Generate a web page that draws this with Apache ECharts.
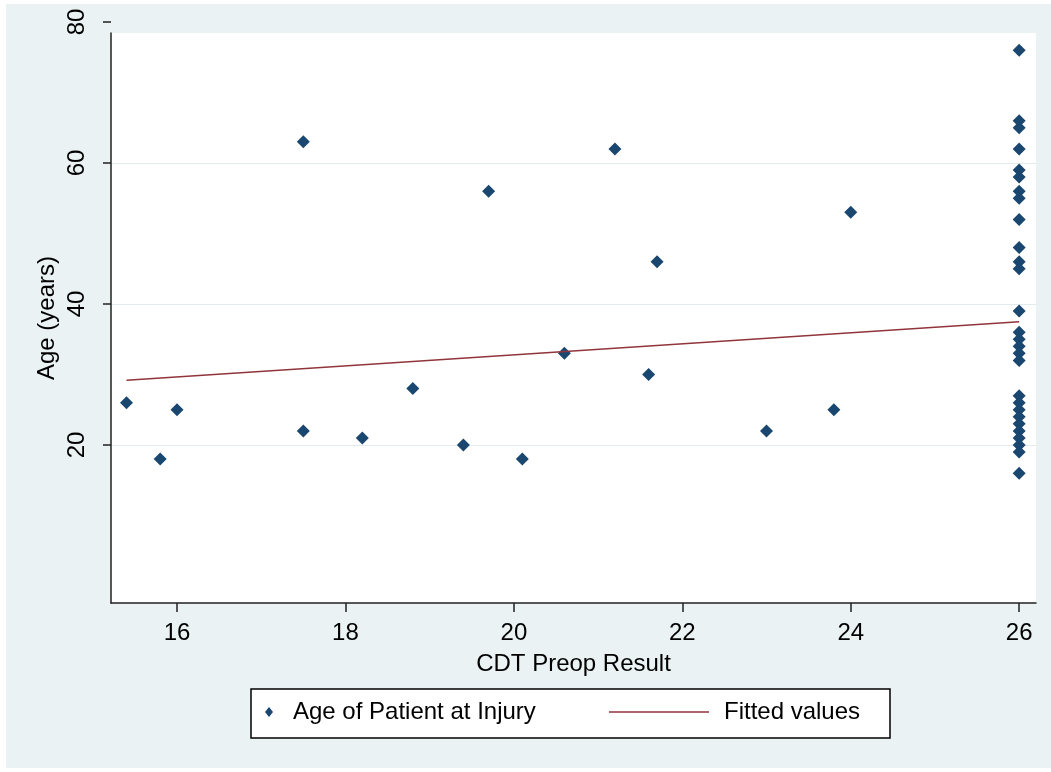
<!DOCTYPE html>
<html>
<head>
<meta charset="utf-8">
<script src="https://cdn.jsdelivr.net/npm/echarts@6/dist/echarts.min.js"></script>
<style>
  html, body { margin: 0; padding: 0; background: #fff; }
  #chart { width: 1051px; height: 772px; }
</style>
</head>
<body>
<div id="chart"></div>
<script>
// ---- data ----
const cdtScores = [15.4, 15.8, 16.0, 17.5, 17.5, 18.2, 18.8, 19.4, 19.7, 20.1, 20.6, 21.2, 21.6, 21.7, 23.0, 23.8, 24.0,
  26, 26, 26, 26, 26, 26, 26, 26, 26, 26, 26, 26, 26, 26, 26, 26, 26, 26,
  26, 26, 26, 26, 26, 26, 26, 26, 26, 26];
const ages = [26, 18, 25, 63, 22, 21, 28, 20, 56, 18, 33, 62, 30, 46, 22, 25, 53,
  76, 66, 65, 62, 59, 58, 56, 55, 52, 48, 46, 45, 39, 36, 35, 34, 33, 32,
  27, 26, 25, 24, 23, 22, 21, 20, 19, 16];
const fitX = [15.4, 26];
const fitY = [29.2, 37.5];
const xTicks = [16, 18, 20, 22, 24, 26];
const yTicks = [20, 40, 60, 80];
const seriesNames = ['Age of Patient at Injury', 'Fitted values'];
const axisTitles = { x: 'CDT Preop Result', y: 'Age (years)' };

// axis extents (Stata plot region)
const X_MIN = 15.216, X_MAX = 26.2;
const Y_MIN = -2.41, Y_TOP = 80, Y_REGION_TOP = 78.44;

const FONT = '"Liberation Sans", Arial, sans-serif';
const FS = 24;
const NAVY = '#1A476F';
const MAROON = '#90353B';
const BG = '#EAF2F3';

const scatterData = cdtScores.map((x, i) => [x, ages[i]]);
const fitData = fitX.map((x, i) => [x, fitY[i]]);

const chart = echarts.init(document.getElementById('chart'), null, { renderer: 'canvas' });
chart.setOption({
  backgroundColor: '#fff',
  animation: false,
  graphic: [
    { type: 'rect', z: -10, silent: true, shape: { x: 6, y: 4, width: 1045, height: 764 }, style: { fill: BG } },
    { type: 'rect', z: 10, silent: true, shape: { x: 251, y: 689, width: 639, height: 49 },
      style: { fill: '#fff', stroke: '#000', lineWidth: 1.5 } }
  ],
  grid: [
    { left: 111, right: 15, top: 33, bottom: 169, show: true, backgroundColor: '#fff', borderWidth: 0, containLabel: false },
    { left: 111, right: 15, top: 22, bottom: 169, show: false, containLabel: false }
  ],
  xAxis: [
    {
      gridIndex: 0, type: 'value', min: X_MIN, max: X_MAX, z: 5,
      name: axisTitles.x, nameLocation: 'middle', nameGap: 44,
      nameTextStyle: { fontFamily: FONT, fontSize: FS, color: '#000', lineHeight: 26 },
      axisLine: { show: true, onZero: false, lineStyle: { color: '#222', width: 1.5 } },
      axisTick: { show: true, length: 9, customValues: xTicks, lineStyle: { color: '#222', width: 1.5 } },
      axisLabel: { show: true, customValues: xTicks, margin: 17, fontFamily: FONT, fontSize: FS, color: '#000', lineHeight: 26 },
      splitLine: { show: false }
    },
    { gridIndex: 1, type: 'value', min: X_MIN, max: X_MAX, show: false }
  ],
  yAxis: [
    {
      gridIndex: 0, type: 'value', min: Y_MIN, max: Y_REGION_TOP, z: 5,
      name: axisTitles.y, nameLocation: 'middle', nameGap: 51,
      nameTextStyle: { fontFamily: FONT, fontSize: FS, color: '#000', lineHeight: 26 },
      axisLine: { show: true, onZero: false, lineStyle: { color: '#222', width: 1.5 } },
      axisTick: { show: false },
      axisLabel: { show: false },
      splitLine: { show: false }
    },
    {
      gridIndex: 1, type: 'value', min: Y_MIN, max: Y_TOP, z: 5,
      axisLine: { show: false, onZero: false },
      axisTick: { show: true, length: 8, customValues: yTicks, lineStyle: { color: '#222', width: 1.5 } },
      axisLabel: { show: true, customValues: yTicks, rotate: 90, margin: 21, fontFamily: FONT, fontSize: FS, color: '#000', lineHeight: 26 },
      splitLine: { show: false }
    }
  ],
  legend: [
    {
      z: 20, left: 265, top: 700, padding: 0, selectedMode: false,
      data: [{ name: seriesNames[0], icon: 'diamond' }],
      itemWidth: 8, itemHeight: 10,
      formatter: '{a|{name}}',
      textStyle: { rich: { a: { fontFamily: FONT, fontSize: FS, color: '#000', lineHeight: 26, padding: [0, 0, 0, 15] } } }
    },
    {
      z: 20, left: 609, top: 700, padding: 0, selectedMode: false,
      data: [{ name: seriesNames[1], icon: 'rect' }],
      itemWidth: 100, itemHeight: 1.5,
      formatter: '{a|{name}}',
      textStyle: { rich: { a: { fontFamily: FONT, fontSize: FS, color: '#000', lineHeight: 26, padding: [0, 0, 0, 10] } } }
    }
  ],
  series: [
    {
      name: seriesNames[0], type: 'scatter', xAxisIndex: 0, yAxisIndex: 0,
      symbol: 'diamond', symbolSize: 13,
      itemStyle: { color: NAVY, opacity: 1 },
      data: scatterData,
      markLine: {
        z: 1, silent: true, symbol: 'none', label: { show: false },
        lineStyle: { color: '#E2EBEE', width: 1.2, type: 'solid' },
        data: yTicks.filter(v => v < Y_REGION_TOP).map(v => ({ yAxis: v }))
      }
    },
    {
      name: seriesNames[1], type: 'line', xAxisIndex: 0, yAxisIndex: 0,
      symbol: 'none', showSymbol: false,
      lineStyle: { color: MAROON, width: 1.5 },
      itemStyle: { color: MAROON },
      data: fitData
    }
  ]
});
</script>
</body>
</html>
